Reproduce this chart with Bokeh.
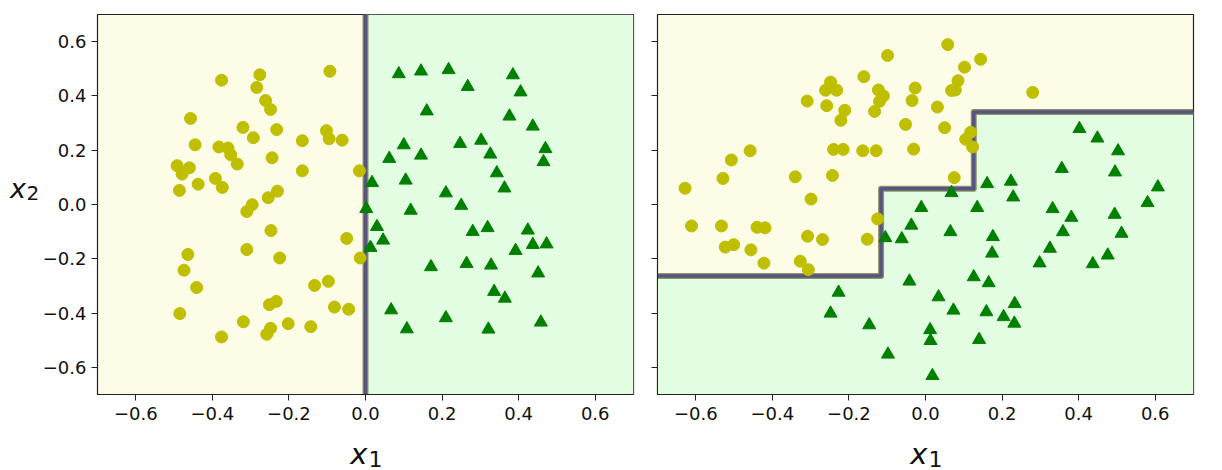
from bokeh.plotting import figure
from bokeh.layouts import row, column
from bokeh.models import FixedTicker, CustomJSTickFormatter, Label, Range1d
from bokeh.embed import file_html
from bokeh.resources import INLINE

# ---------------- data ----------------
axis_lim = [-0.7, 0.7]
tick_values = [-0.6, -0.4, -0.2, 0.0, 0.2, 0.4, 0.6]

# left panel: class 0 (yellow circles)
left_circle_x = [-0.376, -0.276, -0.093, -0.284, -0.261, -0.248, -0.457, -0.320, -0.232, -0.293,
                 -0.102, -0.095, -0.061, -0.165, -0.445, -0.383, -0.359, -0.352, -0.335, -0.244,
                 -0.492, -0.460, -0.479, -0.165, -0.016, -0.392, -0.374, -0.437, -0.486, -0.230,
                 -0.254, -0.296, -0.310, -0.247, -0.049, -0.464, -0.310, -0.224, -0.014, -0.474,
                 -0.441, -0.133, -0.097, -0.233, -0.251, -0.081, -0.044, -0.485, -0.319, -0.202,
                 -0.143, -0.248, -0.258, -0.376]
left_circle_y = [0.458, 0.478, 0.491, 0.431, 0.383, 0.350, 0.317, 0.284, 0.276, 0.246,
                 0.272, 0.242, 0.237, 0.235, 0.220, 0.212, 0.208, 0.183, 0.149, 0.172,
                 0.143, 0.135, 0.112, 0.124, 0.124, 0.096, 0.063, 0.075, 0.052, 0.049,
                 0.025, -0.001, -0.026, -0.096, -0.125, -0.184, -0.166, -0.197, -0.197, -0.242,
                 -0.306, -0.298, -0.283, -0.357, -0.369, -0.378, -0.386, -0.402, -0.432, -0.439,
                 -0.450, -0.456, -0.478, -0.488]

# left panel: class 1 (green triangles)
left_tri_x = [0.087, 0.145, 0.217, 0.385, 0.267, 0.405, 0.160, 0.376, 0.437, 0.100,
              0.247, 0.302, 0.062, 0.145, 0.326, 0.470, 0.465, 0.343, 0.017, 0.105,
              0.363, 0.210, 0.250, 0.002, 0.118, 0.030, 0.280, 0.319, 0.424, 0.046,
              0.013, 0.437, 0.473, 0.392, 0.171, 0.264, 0.328, 0.451, 0.336, 0.364,
              0.067, 0.210, 0.108, 0.321, 0.458]
left_tri_y = [0.481, 0.491, 0.496, 0.477, 0.434, 0.414, 0.344, 0.325, 0.288, 0.219,
              0.224, 0.236, 0.169, 0.181, 0.185, 0.205, 0.157, 0.116, 0.080, 0.089,
              0.060, 0.042, -0.004, -0.016, -0.022, -0.082, -0.100, -0.086, -0.095, -0.132,
              -0.159, -0.148, -0.146, -0.170, -0.230, -0.218, -0.224, -0.253, -0.321, -0.346,
              -0.389, -0.418, -0.459, -0.460, -0.434]

# right panel (rotated data): class 0
right_circle_x = [-0.099, -0.161, -0.248, -0.261, -0.232, -0.123, -0.110, -0.120, -0.027, -0.035,
                  -0.309, -0.258, -0.211, -0.133, -0.221, -0.052, -0.458, -0.507, -0.240, -0.215,
                  -0.164, -0.129, -0.031, -0.529, -0.340, -0.243, -0.628, -0.299,
                  0.058, 0.144, 0.102, 0.085, 0.068, 0.078, 0.280, 0.031, 0.050, 0.118,
                  0.105, 0.123, 0.075,
                  -0.125, -0.611, -0.533, -0.440, -0.419, -0.308, -0.269, -0.152, -0.523, -0.501,
                  -0.456, -0.422, -0.327, -0.306]
right_circle_y = [0.549, 0.471, 0.451, 0.421, 0.421, 0.422, 0.400, 0.380, 0.429, 0.383,
                  0.381, 0.364, 0.347, 0.343, 0.310, 0.295, 0.198, 0.164, 0.203, 0.203,
                  0.198, 0.198, 0.204, 0.096, 0.102, 0.107, 0.060, 0.020,
                  0.589, 0.535, 0.506, 0.456, 0.420, 0.422, 0.413, 0.359, 0.283, 0.266,
                  0.240, 0.212, 0.099,
                  -0.053, -0.079, -0.079, -0.084, -0.086, -0.117, -0.129, -0.128, -0.157, -0.148,
                  -0.167, -0.216, -0.209, -0.240]

# right panel: class 1
right_tri_x = [-0.011, -0.037, -0.105, -0.062, -0.042, -0.227, -0.248, -0.147, -0.098,
               0.402, 0.449, 0.503, 0.356, 0.495, 0.161, 0.223, 0.068, 0.607, 0.229,
               0.135, 0.332, 0.580, 0.381, 0.494, 0.065, 0.176, 0.359, 0.512, 0.174,
               0.325, 0.476, 0.298, 0.437, 0.126, 0.165, 0.034, 0.073, 0.159, 0.233,
               0.204, 0.232, 0.012, 0.013, 0.140, 0.018]
right_tri_y = [-0.012, -0.077, -0.123, -0.127, -0.283, -0.324, -0.401, -0.444, -0.552,
               0.279, 0.244, 0.197, 0.132, 0.119, 0.076, 0.085, 0.043, 0.064, 0.027,
               -0.012, -0.016, 0.006, -0.048, -0.037, -0.101, -0.119, -0.101, -0.107, -0.180,
               -0.162, -0.187, -0.216, -0.219, -0.267, -0.289, -0.341, -0.390, -0.396, -0.366,
               -0.414, -0.438, -0.462, -0.502, -0.498, -0.631]

# decision boundaries
left_boundary_x = [0.0, 0.0]
left_boundary_y = [-0.7, 0.7]
right_boundary_x = [-0.7, -0.116, -0.116, 0.126, 0.126, 0.7]
right_boundary_y = [-0.263, -0.263, 0.058, 0.058, 0.341, 0.341]

# axis label texts (variable + subscript)
xlabel_var, xlabel_sub = "x", "1"
ylabel_var, ylabel_sub = "x", "2"

# ---------------- style ----------------
YELLOW_BG = "#fdfde7"
GREEN_BG = "#e3fde3"
CIRCLE_C = "#bfbf00"
TRI_C = "#008000"
FONT = "DejaVu Sans"
TXT = "#111111"

fmt_code = "return tick.toFixed(1).replace('-', '\u2212');"

TOP_H = 430     # height of the row holding the two panels
LAB_H = 40      # height of the strip holding the x labels
YLAB_W = 39     # width of the strip holding the y label


def make_fig(width, border_left, border_right, show_ylabels):
    p = figure(width=width, height=TOP_H, output_backend="svg", toolbar_location=None,
               x_range=Range1d(axis_lim[0], axis_lim[1]), y_range=Range1d(axis_lim[0], axis_lim[1]),
               min_border_left=border_left, min_border_right=border_right,
               min_border_top=14, min_border_bottom=36)
    p.background_fill_color = YELLOW_BG
    p.border_fill_color = "white"
    p.outline_line_color = "#222222"
    p.outline_line_width = 1.2
    p.xgrid.visible = False
    p.ygrid.visible = False
    for ax in (p.xaxis[0], p.yaxis[0]):
        ax.ticker = FixedTicker(ticks=tick_values)
        ax.minor_tick_line_color = None
        ax.major_tick_out = 6
        ax.major_tick_in = 0
        ax.major_tick_line_color = "#222222"
        ax.axis_line_color = "#222222"
        ax.major_label_text_font = FONT
        ax.major_label_text_font_size = "18px"
        ax.major_label_text_color = TXT
    p.xaxis.formatter = CustomJSTickFormatter(code=fmt_code)
    p.xaxis.major_label_standoff = 6
    if show_ylabels:
        p.yaxis.formatter = CustomJSTickFormatter(code=fmt_code)
        p.yaxis.major_label_standoff = 5
    else:
        p.yaxis.formatter = CustomJSTickFormatter(code="return '';")
        p.yaxis.major_label_standoff = 0
    return p


def text_fig(width, height):
    f = figure(width=width, height=height, output_backend="svg", toolbar_location=None,
               x_range=Range1d(0, width), y_range=Range1d(0, height),
               x_axis_type=None, y_axis_type=None,
               min_border_left=0, min_border_right=0, min_border_top=0, min_border_bottom=0)
    f.outline_line_color = None
    f.background_fill_color = "white"
    f.border_fill_color = "white"
    return f


def add_sub_label(f, x, y, var, sub, size_var, size_sub, drop, gap=1):
    f.add_layout(Label(x=x, y=y, text=var, text_align="right", text_baseline="alphabetic",
                       text_font=FONT, text_font_style="italic", text_font_size=size_var, text_color=TXT))
    f.add_layout(Label(x=x + gap, y=y - drop, text=sub, text_align="left", text_baseline="alphabetic",
                       text_font=FONT, text_font_size=size_sub, text_color=TXT))


def draw_boundary(p, bx, by):
    p.line(bx, by, line_width=6, line_color="#7d7d58", line_alpha=0.85, line_join="round")
    p.line(bx, by, line_width=3.5, line_color="#4c4c7f", line_alpha=0.85, line_join="round")


# left panel (frame 536 px wide starting at x = 97)
p1 = make_fig(606, 58, 12, True)
p1.patch([left_boundary_x[0], axis_lim[1], axis_lim[1], left_boundary_x[1]],
         [left_boundary_y[0], left_boundary_y[0], left_boundary_y[1], left_boundary_y[1]],
         fill_color=GREEN_BG, line_color=None)
draw_boundary(p1, left_boundary_x, left_boundary_y)
p1.scatter(left_circle_x, left_circle_y, marker="circle", size=12, fill_color=CIRCLE_C, line_color=CIRCLE_C)
p1.scatter(left_tri_x, left_tri_y, marker="triangle", size=13, fill_color=TRI_C, line_color=TRI_C)

# right panel
p2 = make_fig(577, 12, 29, False)
p2.patch(right_boundary_x + [axis_lim[1], axis_lim[0]],
         right_boundary_y + [axis_lim[0], axis_lim[0]],
         fill_color=GREEN_BG, line_color=None)
draw_boundary(p2, right_boundary_x, right_boundary_y)
p2.scatter(right_circle_x, right_circle_y, marker="circle", size=12, fill_color=CIRCLE_C, line_color=CIRCLE_C)
p2.scatter(right_tri_x, right_tri_y, marker="triangle", size=13, fill_color=TRI_C, line_color=TRI_C)

# y label strip (left of panel 1)
ylab = text_fig(YLAB_W, TOP_H)
add_sub_label(ylab, 25.5, TOP_H - 197, ylabel_var, ylabel_sub, "27px", "20px", 5, gap=0.5)

# x label strips (below each panel)
xlab1 = text_fig(YLAB_W + 606, LAB_H)
add_sub_label(xlab1, 367, LAB_H - 453.3 + TOP_H, xlabel_var, xlabel_sub, "29px", "22px", 4.7)
xlab2 = text_fig(577, LAB_H)
add_sub_label(xlab2, 282, LAB_H - 453.3 + TOP_H, xlabel_var, xlabel_sub, "29px", "22px", 4.7)

layout = column(row(ylab, p1, p2, spacing=0), row(xlab1, xlab2, spacing=0), spacing=0)
open("out.html", "w").write(file_html(layout, INLINE))
